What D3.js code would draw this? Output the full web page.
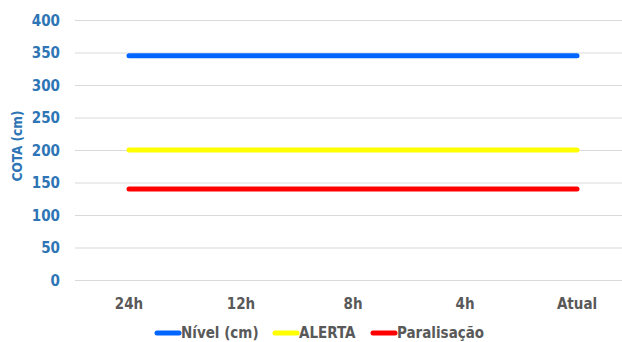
<!DOCTYPE html>
<html>
<head>
<meta charset="utf-8"/>
<style>
    body{ margin:0; background:#fff; }
    text{ font-family: "DejaVu Sans Condensed", "DejaVu Sans", sans-serif; font-weight:700; }
    .grid line{ stroke:#d9d9d9; }
    .grid path{ display:none; }
    #y-axis text{ fill:#2e75b6; font-size:15px; }
    #x-axis text{ fill:#595959; font-size:15px; }
    .legend text{ fill:#595959; font-size:15px; }
</style>
</head>
<body>
<svg id="chart"></svg>
<script src="https://d3js.org/d3.v7.min.js"></script>
<script>
    // data
    const categories = ['24h', '12h', '8h', '4h', 'Atual'];
    const nivel = [345, 345, 345, 345, 345];
    const alerta = [200, 200, 200, 200, 200];
    const paralisacao = [140, 140, 140, 140, 140];
    const yTicks = [0, 50, 100, 150, 200, 250, 300, 350, 400];
    const seriesNames = ['Nível (cm)', 'ALERTA', 'Paralisação'];
    const seriesColors = ['#0066ff', '#ffff00', '#ff0000'];

    var width = 622, height = 342;
    var svg = d3.select('#chart').attr('width', width).attr('height', height);

    var x = d3.scaleBand().domain(categories).range([73, 633]);
    var y = d3.scaleLinear().domain([0, 400]).range([280, 20]);

    // gridlines
    svg.append('g').attr('class', 'grid')
        .attr('transform', 'translate(75,0)')
        .call(d3.axisLeft(y).tickValues(yTicks).tickSize(-560).tickFormat(''));

    // y axis labels
    var yAxis = svg.append('g').attr('id', 'y-axis')
        .attr('transform', 'translate(60,0)')
        .call(d3.axisLeft(y).tickValues(yTicks).tickSize(0));
    yAxis.select('.domain').remove();
    yAxis.selectAll('text').attr('x', 0).attr('dy', '0.35em');

    svg.append('text')
        .attr('transform', 'translate(22,146) rotate(-90)')
        .attr('text-anchor', 'middle')
        .style('fill', '#2e75b6').style('font-size', '13.5px')
        .text('COTA  (cm)');

    // x axis labels
    var xAxis = svg.append('g').attr('id', 'x-axis')
        .attr('transform', 'translate(0,304)')
        .call(d3.axisBottom(x).tickSize(0));
    xAxis.select('.domain').remove();
    xAxis.selectAll('text').attr('dy', '0.35em').attr('y', 0);

    // lines
    var line = d3.line()
        .x(function(d, i){ return x(categories[i]) + x.bandwidth()/2; })
        .y(function(d){ return y(d); });
    [nivel, alerta, paralisacao].forEach(function(s, i){
        svg.append('path')
            .datum(s)
            .attr('d', line)
            .attr('fill', 'none')
            .attr('stroke', seriesColors[i])
            .attr('stroke-width', 5)
            .attr('stroke-linecap', 'round');
    });

    // legend
    var legendX = [157, 275, 373];
    var legend = svg.append('g').attr('class', 'legend');
    seriesNames.forEach(function(n, i){
        var g = legend.append('g').attr('transform', 'translate(' + legendX[i] + ',333)');
        g.append('line').attr('x1', 0).attr('x2', 22)
            .attr('stroke', seriesColors[i]).attr('stroke-width', 5)
            .attr('stroke-linecap', 'round');
        g.append('text').attr('x', 24).attr('dy', '0.35em').text(n);
    });
</script>
</body>
</html>
